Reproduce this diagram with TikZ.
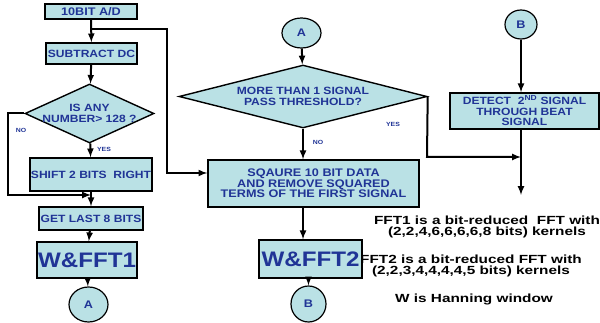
\documentclass[tikz,border=0pt]{standalone}
\usepackage{fontspec}
\setmainfont[FakeStretch=1.15]{Liberation Sans}
\usepackage{tikz}
\usetikzlibrary{arrows,shapes,positioning,calc}
\definecolor{boxfill}{RGB}{186,225,229}
\definecolor{boxtext}{RGB}{32,52,150}

\begin{document}
\begin{tikzpicture}[x=1pt,y=-1pt,% List of styles applied to all
					every node/.style={
						align=center,  		% so that "\\" for line break works
						font=\bfseries\fontsize{10.5}{11.5}\selectfont,
						text=boxtext,
						inner sep=0pt
						},
					stepbox/.style={rectangle,draw=black,line width=1.4pt,fill=boxfill},
					decision/.style={diamond,draw=black,line width=1.4pt,fill=boxfill},
					connector/.style={ellipse,draw=black,line width=1.2pt,fill=boxfill,font=\bfseries\fontsize{11}{12}\selectfont},
					bigtext/.style={font=\bfseries\fontsize{21}{22}\selectfont},
					branch/.style={font=\bfseries\fontsize{6}{7}\selectfont},
					note/.style={text=black,font=\bfseries\addfontfeatures{FakeStretch=1.3}\fontsize{11.8}{11}\selectfont},
					every path/.style={line width=2pt},
					every edge/.style={draw,line width=2pt,-latex}
					]
\useasboundingbox (0,0) rectangle (600,323);
% left column
\node[stepbox,minimum width=92,minimum height=15,font=\bfseries\fontsize{11}{12}\selectfont](ad) at (91,11.5){10BIT A/D};
\node[stepbox,minimum width=91,minimum height=21](sub) at (91.5,53.5){SUBTRACT DC};
\node[decision,inner sep=-4pt,aspect=2.2,minimum width=129,minimum height=59](isany) at (89.5,113.5){IS ANY\\NUMBER> 128 ?};
\node[stepbox,minimum width=122,minimum height=33](shift) at (91,174.5){SHIFT 2 BITS~ RIGHT};
\node[stepbox,minimum width=104,minimum height=23](last8) at (91,218.5){GET LAST 8 BITS};
\node[stepbox,bigtext,minimum width=100,minimum height=36](fft1) at (87,260){W\&FFT1};
\node[connector,minimum width=39,minimum height=35](ca) at (88.5,304.5){A};
% middle column
\node[connector,minimum width=39,minimum height=30](ca2) at (301.5,33){A};
\node[decision,aspect=3.9,minimum width=248,minimum height=63](more) at (303,96.5){MORE THAN 1 SIGNAL\\PASS THRESHOLD?};
\node[stepbox,minimum width=211,minimum height=47,font=\bfseries\fontsize{11}{10.5}\selectfont](sq) at (313.5,183.5){SQAURE 10 BIT DATA\\AND REMOVE SQUARED\\TERMS OF THE FIRST SIGNAL};
\node[stepbox,bigtext,minimum width=103,minimum height=38](fft2) at (310.5,259){W\&FFT2};
\node[connector,minimum width=35,minimum height=36](cb) at (308.5,304){B};
% right column
\node[connector,minimum width=32,minimum height=29](cb2) at (521,24.5){B};
\node[stepbox,minimum width=149,minimum height=36,font=\bfseries\fontsize{10.5}{10.5}\selectfont](det) at (524.5,111){DETECT~ 2\textsuperscript{ND} SIGNAL\\THROUGH BEAT\\SIGNAL};
\coordinate (out) at (521,195);
% notes
\node[note](n1) at (487,227){FFT1 is a bit-reduced~ FFT with\\(2,2,4,6,6,6,6,8 bits) kernels};
\node[note](n2) at (471,266){FFT2 is a bit-reduced FFT with\\(2,2,3,4,4,4,4,5 bits) kernels};
\node[note](n3) at (474,299){W is Hanning window};
% bends
\coordinate (j1) at (167,29);
\coordinate (j2) at (167,173);
\coordinate (k1) at (8,195);
\coordinate (m1) at (427,157);
% branch labels
\node[branch](no1) at (21,130){NO};
\node[branch](yes1) at (104,149){YES};
\node[branch](no2) at (318,142){NO};
\node[branch](yes2) at (393,124){YES};
\path
(ad)edge[]    node [] {} (sub)
(sub)edge[]   node [] {} (isany)
(isany)edge[] node [] {} (shift)
(shift)edge[] node [] {} (last8)
(last8)edge[] node [] {} (fft1)
(fft1)edge[]  node [] {} (ca)
(ca2)edge[]   node [] {} (more)
(more)edge[]  node [] {} (more |- sq.north)
(sq.south -| more)edge[] node [] {} (fft2.north -| more)
(fft2.south -| cb)edge[] node [] {} (cb)
(cb2)edge[]   node [] {} (cb2 |- det.north)
(cb2 |- det.south)edge[] node [] {} (out)
;
\draw[-latex] (ad.south) |- (j1) -- (j2) -- (j2 -| sq.west);
\draw[-latex] (isany.west) -| (k1) -- (k1 -| shift);
\draw[-latex] (more.east) -- (m1) -- (m1 -| out);
\end{tikzpicture}
\end{document}
